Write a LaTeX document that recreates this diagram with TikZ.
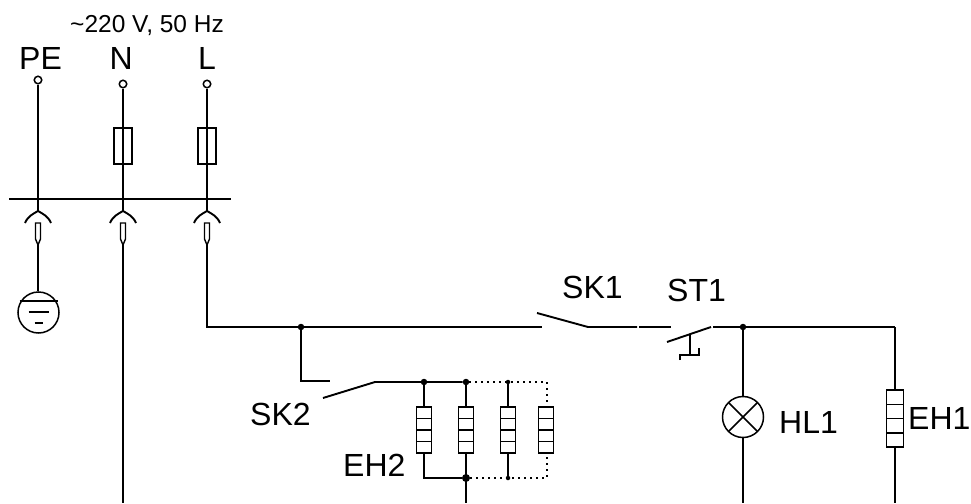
\documentclass[tikz,border=0pt]{standalone}
\usepackage{fontspec}
\setmainfont{Liberation Sans}
\usetikzlibrary{calc}
\tikzset{
wire/.style={line width=1.9pt},
dotwire/.style={line width=1.5pt,dash pattern=on 2pt off 4pt},
terminal/.style={circle,draw,line width=1.5pt,fill=white,inner sep=0pt,minimum size=7.5pt},
fuse/.style={rectangle,draw,line width=1.5pt,inner sep=0pt,minimum width=18pt,minimum height=36pt},
heater/.style={rectangle,draw,line width=1.5pt,inner sep=0pt,minimum width=15pt,minimum height=46pt,
  path picture={\foreach \f in {0.25,0.5,0.75}
    \draw[line width=1.5pt] ($(path picture bounding box.north west)!\f!(path picture bounding box.south west)$) -- ($(path picture bounding box.north east)!\f!(path picture bounding box.south east)$);}},
lamp/.style={circle,draw,line width=1.5pt,inner sep=0pt,minimum size=41pt,
  path picture={\draw[line width=1.5pt] (path picture bounding box.north west) -- (path picture bounding box.south east) (path picture bounding box.north east) -- (path picture bounding box.south west);}},
joint/.style={circle,fill=black,inner sep=0pt,minimum size=6.5pt},
tiny joint/.style={circle,fill=black,inner sep=0pt,minimum size=4.5pt},
big label/.style={anchor=base west,inner sep=0pt,font=\fontsize{32}{32}\selectfont},
small label/.style={anchor=base west,inner sep=0pt,font=\fontsize{24.5}{24.5}\selectfont},
socket/.pic={
  \coordinate (-apex) at (0,0);
  \coordinate (-tip) at (0,34);
  \draw[wire] (-13,12) .. controls (-10,5) and (-5,3) .. (0,0) .. controls (5,3) and (10,5) .. (13,12);
  \draw[line width=1.4pt] (-2.5,12) -- (2.5,12) -- (2.5,28) -- (0,34) -- (-2.5,28) -- cycle;
}}

\begin{document}
\begin{tikzpicture}[x=1pt,y=-1pt]
\useasboundingbox (0,0) rectangle (971,503);

% labels
\node[small label] (mains) at (70,33) {\textasciitilde 220 V, 50 Hz};
\node[big label] (lpe) at (19,70) {PE};
\node[big label] (ln) at (109.5,70) {N};
\node[big label] (ll) at (198,70) {L};
\node[big label] (lsk1) at (562,298) {SK1};
\node[big label] (lst1) at (667,301) {ST1};
\node[big label] (lsk2) at (250,425) {SK2};
\node[big label] (leh2) at (343,476) {EH2};
\node[big label] (lhl1) at (779,433) {HL1};
\node[big label] (leh1) at (908,429) {EH1};

% supply side
\node[terminal] (pe) at (38,80) {};
\node[terminal] (n) at (123,84) {};
\node[terminal] (l) at (207,84) {};
\node[fuse] (fn) at (123,146) {};
\node[fuse] (fl) at (207,146) {};
\coordinate (busl) at (9,199);
\coordinate (busr) at (231,199);
\pic (s1) at (38,211) {socket};
\pic (s2) at (123,211) {socket};
\pic (s3) at (207,211) {socket};

\draw[line width=2.6pt] (busl) -- (busr);
\draw[wire] (pe) -- (s1-apex);
\draw[wire] (n) -- (s2-apex);
\draw[wire] (l) -- (s3-apex);

% earth
\node[circle,draw,line width=1.5pt,inner sep=0pt,minimum size=41pt] (earth) at (38.5,312.5) {};
\coordinate (e1) at ($(earth.center)+(-19,-11.5)$);
\coordinate (e2) at ($(earth.center)+(19,-11.5)$);
\coordinate (e3) at ($(earth.center)+(-10,-0.5)$);
\coordinate (e4) at ($(earth.center)+(10,-0.5)$);
\coordinate (e5) at ($(earth.center)+(-4,10.5)$);
\coordinate (e6) at ($(earth.center)+(4,10.5)$);
\draw[wire] (s1-tip) -- (s1-tip |- earth.north);
\draw[wire] (e1) -- (e2);
\draw[wire] (e3) -- (e4);
\draw[wire] (e5) -- (e6);

% feed line with SK1 and ST1
\coordinate (nend) at (123,503);
\coordinate (sk1in) at (542,327);
\coordinate (sk1a) at (537,313);
\coordinate (sk1b) at (588,327);
\coordinate (sk1c) at (637,327);
\coordinate (st1in) at (639,327);
\coordinate (st1out) at (671,327);
\coordinate (st1a) at (667,342);
\coordinate (st1b) at (711,327);
\coordinate (st1c) at (713,327);
\node[joint] (j1) at (301,327) {};
\node[joint] (j2) at (743,327) {};
\coordinate (corner) at (895,327);

\draw[wire] (s2-tip) -- (nend);
\draw[wire] (s3-tip) |- (sk1in);
\draw[wire] (sk1a) -- (sk1b) -- (sk1c);
\draw[wire] (st1in) -- (st1out);
\draw[wire] (st1a) -- (st1b);
\draw[wire] (st1c) -- (corner);

% push button
\coordinate (b1) at (690,334);
\coordinate (b2) at (690,355);
\coordinate (b3) at (680,360);
\coordinate (b4) at (699,348);
\draw[wire] (b1) -- (b2);
\draw[wire] (b3) |- (b2) -| (b4);

% lamp and EH1
\node[lamp] (hl1) at (743,417) {};
\node[heater,minimum width=17pt,minimum height=57pt] (eh1) at (895,418.5) {};
\coordinate (hlend) at (743,503);
\coordinate (ehend) at (895,503);
\draw[wire] (j2) -- (hl1);
\draw[wire] (hl1) -- (hlend);
\draw[wire] (corner) -- (eh1);
\draw[wire] (eh1) -- (ehend);

% SK2 and EH2
\coordinate (sk2in) at (330,381);
\coordinate (sk2a) at (323,398);
\coordinate (sk2b) at (375,382);
\node[joint] (j3) at (424,382) {};
\node[joint] (j4) at (466,382) {};
\node[tiny joint] (j5) at (508,382) {};
\coordinate (c1) at (547,382);
\node[heater] (h1) at (424,430) {};
\node[heater] (h2) at (466,430) {};
\node[heater] (h3) at (508,430) {};
\node[heater] (h4) at (546,430) {};
\node[joint,minimum size=8pt] (j6) at (466,478) {};
\node[tiny joint] (j7) at (508,478) {};
\coordinate (c2) at (547,478);
\coordinate (eh2end) at (466,503);

\draw[wire] (j1) |- (sk2in);
\draw[wire] (sk2a) -- (sk2b) -- (j4);
\draw[wire] (j3) -- (h1);
\draw[wire] (j4) -- (h2);
\draw[wire] (j5) -- (h3);
\draw[wire] (h1) |- (j6);
\draw[wire] (h2) -- (eh2end);
\draw[wire] (h3) -- (j7);
\draw[dotwire] (j4) -- (c1) -- (h4.north -| c1);
\draw[dotwire] (j6) -- (c2) -- (h4.south -| c2);

\end{tikzpicture}
\end{document}
